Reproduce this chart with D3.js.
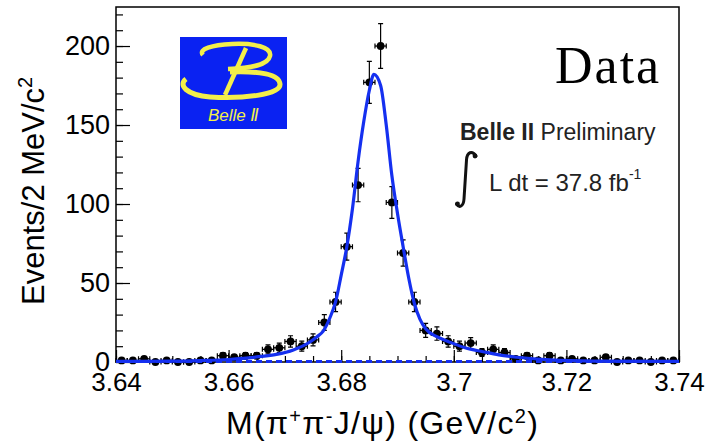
<!DOCTYPE html>
<html>
<head>
<meta charset="utf-8">
<script src="https://cdn.jsdelivr.net/npm/d3@7"></script>
<style>
  body { margin: 0; background: #fff; }
  text { font-family: "Liberation Sans", Arial, sans-serif; fill: #000; }
</style>
</head>
<body>
<div id="chart"></div>
<script>
// bin centres (2 MeV bins) and event counts
const binCenters = [3.641, 3.643, 3.645, 3.647, 3.649, 3.651, 3.653, 3.655, 3.657, 3.659,
                    3.661, 3.663, 3.665, 3.667, 3.669, 3.671, 3.673, 3.675, 3.677, 3.679,
                    3.681, 3.683, 3.685, 3.687, 3.689, 3.691, 3.693, 3.695, 3.697, 3.699,
                    3.701, 3.703, 3.705, 3.707, 3.709, 3.711, 3.713, 3.715, 3.717, 3.719,
                    3.721, 3.723, 3.725, 3.727, 3.729, 3.731, 3.733, 3.735, 3.737, 3.739];
const counts = [1, 1, 2, 0, 1, 0, 0, 1, 1, 4,
                3, 4, 4, 8, 9, 13, 10, 14, 25, 38,
                73, 112, 177, 200, 101, 69, 38, 20, 18, 13,
                10, 12, 6, 8, 6, 2, 4, 1, 4, 1,
                2, 1, 1, 3, 0, 1, 1, 0, 1, 1];
const binHalfWidth = 0.001;

// fitted curve
const fitX = [3.640, 3.650, 3.655, 3.660, 3.6626, 3.665, 3.6685, 3.6715, 3.6745, 3.6757,
              3.6768, 3.678, 3.679, 3.680, 3.681, 3.682, 3.683, 3.684, 3.685, 3.6858,
              3.687, 3.688, 3.689, 3.690, 3.691, 3.692, 3.693, 3.694, 3.695, 3.697,
              3.699, 3.702, 3.7052, 3.708, 3.7112, 3.7171, 3.725, 3.740];
const fitY = [0.4, 0.5, 0.9, 1.6, 2.3, 3.2, 4.8, 7.6, 12.8, 16,
              19.5, 28, 38, 55, 73, 97, 127, 152, 172, 182,
              175, 150, 118, 94, 73, 53, 37, 27, 21, 16,
              13, 9, 6.5, 4.5, 3, 1.3, 0.6, 0.4];
// flat background component
const bkgX = [3.640, 3.740];
const bkgY = [0.3, 0.3];

const xTicks = [3.64, 3.66, 3.68, 3.70, 3.72, 3.74];
const xTickLabels = ["3.64", "3.66", "3.68", "3.7", "3.72", "3.74"];
const yTicks = [0, 50, 100, 150, 200];

const margin = {top: 7, right: 27, bottom: 81, left: 116};
const width = 706 - margin.left - margin.right;
const height = 443 - margin.top - margin.bottom;
const blue = "#1530f0";

const svg = d3.select("#chart").append("svg")
    .attr("width", 706)
    .attr("height", 443);

const g = svg.append("g")
    .attr("transform", `translate(${margin.left},${margin.top})`);

const x = d3.scaleLinear().domain([3.64, 3.74]).range([0, width]);
const y = d3.scaleLinear().domain([0, 224.7]).range([height, 0]);

// minor ticks
g.append("g")
    .call(d3.axisLeft(y).ticks(25).tickSize(-7).tickFormat(""))
    .call(a => a.select(".domain").remove());
g.append("g")
    .attr("transform", `translate(0,${height})`)
    .call(d3.axisBottom(x).ticks(20).tickSize(-6).tickFormat(""))
    .call(a => a.select(".domain").remove());

// major ticks + labels
g.append("g")
    .call(d3.axisLeft(y).tickValues(yTicks).tickSize(-14).tickPadding(6))
    .call(a => a.select(".domain").remove())
    .call(a => a.selectAll("text").style("font-size", "27px"));
g.append("g")
    .attr("transform", `translate(0,${height})`)
    .call(d3.axisBottom(x).tickValues(xTicks).tickSize(-12).tickPadding(11)
      .tickFormat((d, i) => xTickLabels[i]))
    .call(a => a.select(".domain").remove())
    .call(a => a.selectAll("text").style("font-size", "26px"));

g.selectAll(".tick line").attr("stroke", "#000").attr("stroke-width", 1.2);

// frame
g.append("rect")
    .attr("width", width)
    .attr("height", height)
    .attr("fill", "none")
    .attr("stroke", "#000")
    .attr("stroke-width", 1.5);

// data points with error bars
const pts = binCenters.map((c, i) => ({x: c, n: counts[i], err: counts[i] > 0 ? Math.sqrt(counts[i]) : 1.15}));
const pg = g.append("g").selectAll("g").data(pts).join("g");
pg.append("line") // vertical
    .attr("x1", d => x(d.x)).attr("x2", d => x(d.x))
    .attr("y1", d => y(Math.max(0, d.n - d.err))).attr("y2", d => y(d.n + d.err))
    .attr("stroke", "#000").attr("stroke-width", 1.2);
pg.append("line") // horizontal
    .attr("x1", d => x(d.x - binHalfWidth)).attr("x2", d => x(d.x + binHalfWidth))
    .attr("y1", d => y(d.n)).attr("y2", d => y(d.n))
    .attr("stroke", "#000").attr("stroke-width", 1.3);
pg.append("path") // end caps
    .attr("d", d => {
      const cx = x(d.x), cy = y(d.n), yt = y(d.n + d.err), yb = y(Math.max(0, d.n - d.err));
      const xl = x(d.x - binHalfWidth), xr = x(d.x + binHalfWidth);
      return `M${cx - 2.5},${yt}H${cx + 2.5}M${cx - 2.5},${yb}H${cx + 2.5}` +
             `M${xl},${cy - 2.5}V${cy + 2.5}M${xr},${cy - 2.5}V${cy + 2.5}`;
    })
    .attr("stroke", "#000").attr("stroke-width", 1.2).attr("fill", "none");
pg.append("circle")
    .attr("cx", d => x(d.x)).attr("cy", d => y(d.n))
    .attr("r", 3.9).attr("fill", "#000");

// fit curves
const line = d3.line().x(d => x(d[0])).y(d => y(d[1])).curve(d3.curveMonotoneX);
g.append("path")
    .datum(bkgX.map((v, i) => [v, bkgY[i]]))
    .attr("d", line)
    .attr("fill", "none").attr("stroke", blue).attr("stroke-width", 3)
    .attr("stroke-dasharray", "6,4");
g.append("path")
    .datum(fitX.map((v, i) => [v, fitY[i]]))
    .attr("d", line)
    .attr("fill", "none").attr("stroke", blue).attr("stroke-width", 3.2);

// axis titles
svg.append("text")
    .attr("transform", "translate(44,305) rotate(-90)")
    .style("font-size", "31px")
    .html('Events/2 MeV/c<tspan dy="-12" style="font-size:20px">2</tspan>');
svg.append("text")
    .attr("x", 226).attr("y", 434)
    .style("font-size", "32px")
    .style("letter-spacing", "1.3px")
    .html('M(π<tspan dy="-11" style="font-size:20px">+</tspan><tspan dy="11">π</tspan>' +
          '<tspan dy="-11" style="font-size:20px">-</tspan><tspan dy="11">J/ψ) (GeV/c</tspan>' +
          '<tspan dy="-11" style="font-size:20px">2</tspan><tspan dy="11">)</tspan>');

// labels
svg.append("text")
    .attr("x", 555).attr("y", 83)
    .style("font-family", '"Liberation Serif", serif')
    .style("font-size", "52px")
    .style("letter-spacing", "2px")
    .text("Data");
svg.append("text")
    .attr("x", 460).attr("y", 140)
    .style("font-size", "23px")
    .style("fill", "#222")
    .html('<tspan style="font-weight:bold">Belle II</tspan> Preliminary');
svg.append("path")
    .attr("d", "M476,156 C472,150 467,152 466.5,160 L464,199 C463.5,207 459,208 456.5,204")
    .attr("fill", "none").attr("stroke", "#111").attr("stroke-width", 3).attr("stroke-linecap", "round");
svg.append("g").selectAll("circle")
    .data([[475, 156], [457.5, 204]])
    .join("circle")
    .attr("cx", d => d[0]).attr("cy", d => d[1]).attr("r", 2.4).attr("fill", "#111");
svg.append("text")
    .attr("x", 489).attr("y", 191)
    .style("font-size", "24px")
    .style("fill", "#222")
    .html('L dt = 37.8 fb<tspan dy="-12" style="font-size:14px">-1</tspan>');

// Belle II logo
const logo = svg.append("g").attr("transform", "translate(180,37)");
logo.append("rect").attr("width", 107).attr("height", 92).attr("fill", "#0a22f2");
const yellow = "#f3ef4a";
logo.append("path")
    .attr("d", "M23,18 C18,12 32,8 52,7 C74,6 92,10 90,19 C88,28 72,31 48,32")
    .attr("fill", "none").attr("stroke", yellow).attr("stroke-width", 4.5);
logo.append("path")
    .attr("d", "M6,42 C-2,48 6,58 30,60 C62,62 101,58 100,47 C99,37 80,34 50,35")
    .attr("fill", "none").attr("stroke", yellow).attr("stroke-width", 5);
logo.append("path")
    .attr("d", "M66,11 L45,58")
    .attr("fill", "none").attr("stroke", yellow).attr("stroke-width", 4.5);
logo.append("text")
    .attr("x", 28).attr("y", 84)
    .style("font-size", "17px").style("font-style", "italic").style("fill", yellow)
    .html('Belle <tspan style="font-family:\'DejaVu Sans\'">Ⅱ</tspan>');
</script>
</body>
</html>
